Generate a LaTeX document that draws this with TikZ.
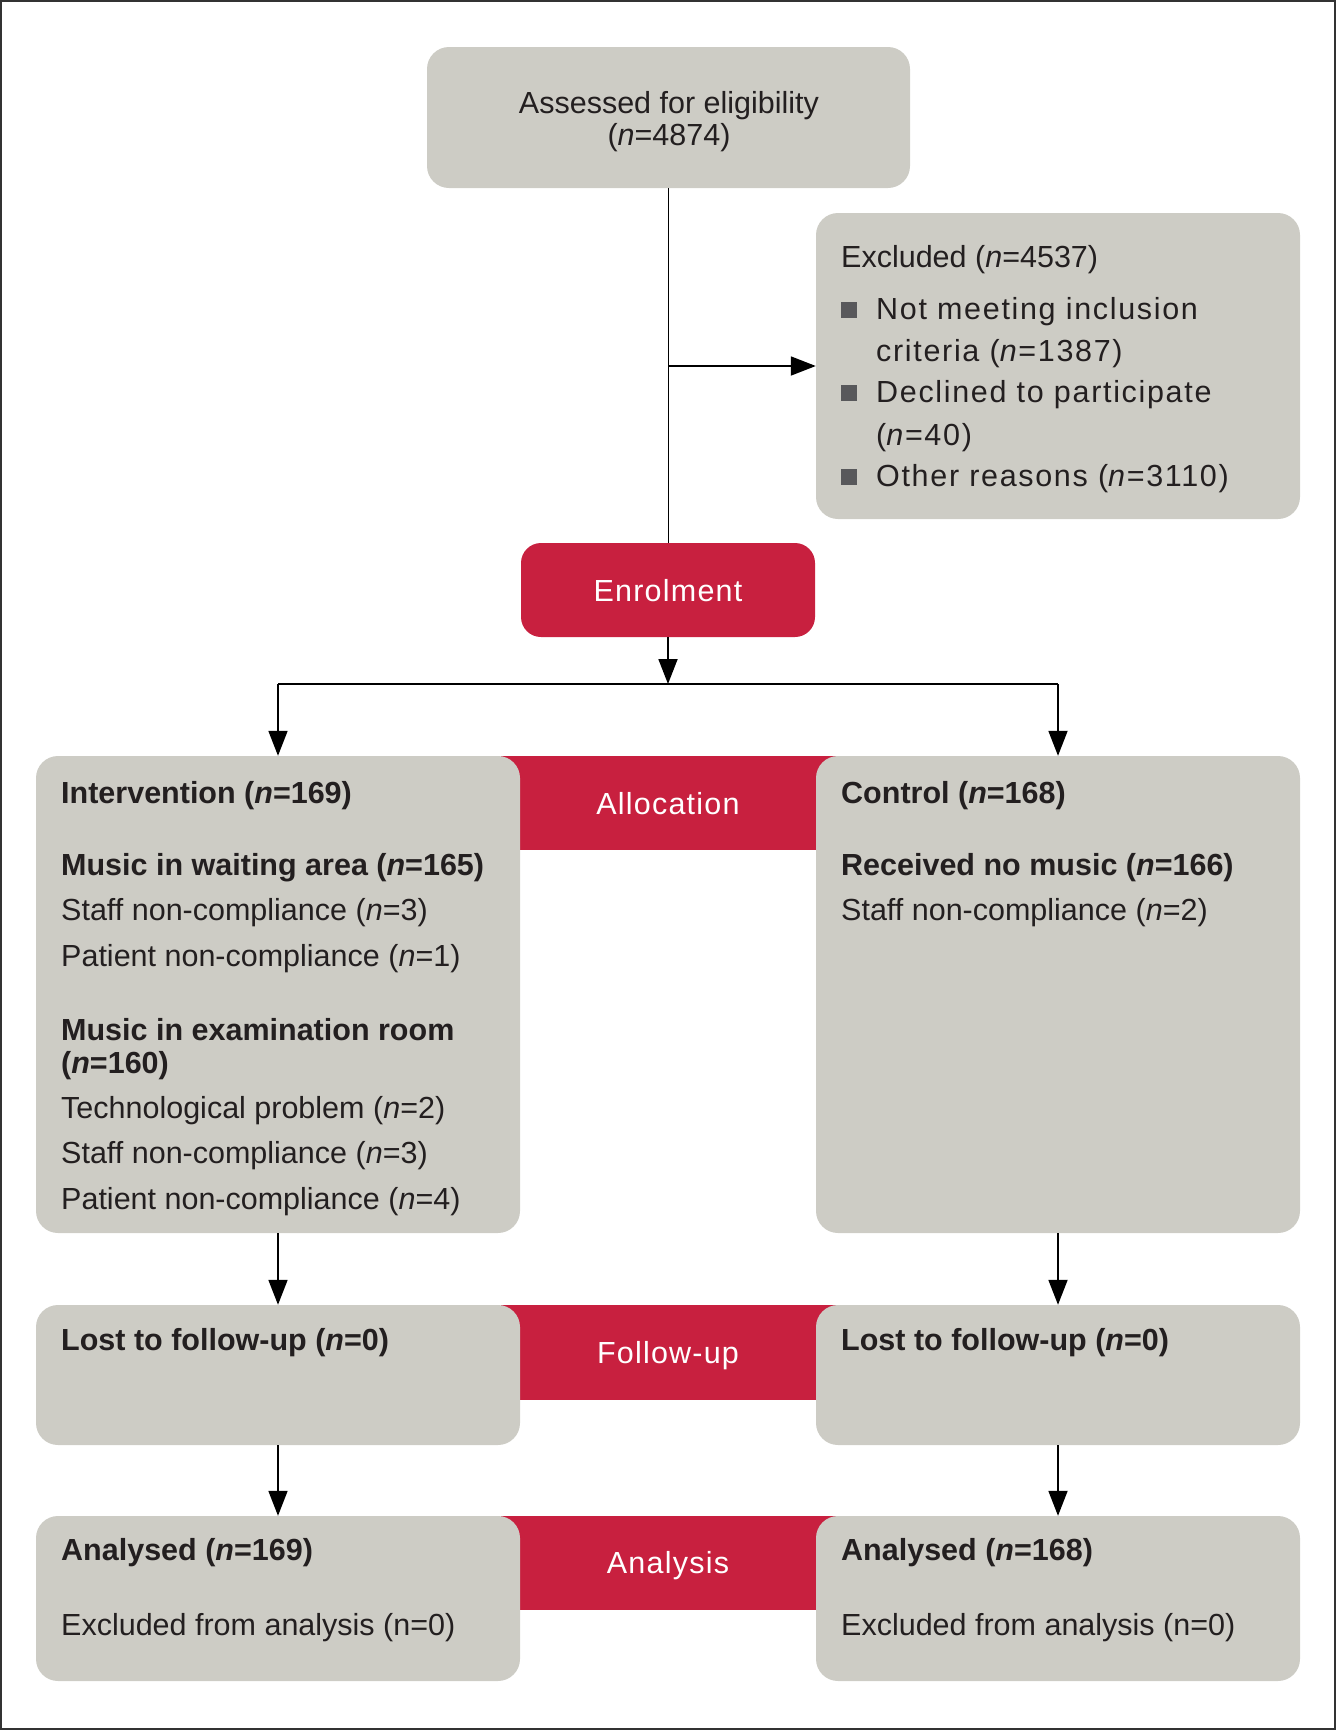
\documentclass[tikz,border=0pt]{standalone}
\usepackage{fontspec}
\setmainfont{Liberation Sans}
\usetikzlibrary{arrows.meta}
\definecolor{boxgray}{HTML}{CDCCC5}
\definecolor{cred}{HTML}{C8203F}
\definecolor{txtc}{HTML}{231F20}
\definecolor{bulc}{HTML}{58585B}
\begin{document}
\begin{tikzpicture}[x=1pt,y=-1pt,
  gbox/.style={fill=boxgray, rounded corners=22pt, inner sep=0pt, draw=none, minimum width=484pt},
  rband/.style={fill=cred, inner sep=0pt, draw=none, minimum width=335pt},
  rlabel/.style={anchor=base, inner sep=0pt, text=white, font=\fontsize{30.5}{36}\selectfont\addfontfeatures{LetterSpace=4}},
  tl/.style={anchor=base west, inner sep=0pt, text=txtc, font=\fontsize{30.5}{36}\selectfont},
  tw/.style={tl, font=\fontsize{30.5}{36}\selectfont\addfontfeatures{LetterSpace=5.5}},
  tc/.style={anchor=base, inner sep=0pt, text=txtc, font=\fontsize{30.5}{36}\selectfont},
  bul/.style={anchor=south west, fill=bulc, inner sep=0pt, minimum size=16pt, draw=none},
  conn/.style={draw=black, line width=1.8pt},
  arr/.style={conn, -{Triangle[length=25pt,width=19pt]}}
]
\useasboundingbox (0,0) rectangle (1336,1730);
\draw[draw=black!80, line width=2pt] (1,1) rectangle (1335,1729);

% red bands
\node[rband, minimum height=94pt] (allocband) at (668,803) {};
\node[rband, minimum height=95pt] (followband) at (668,1352.5) {};
\node[rband, minimum height=94pt] (anaband) at (668,1563) {};

% boxes
\node[gbox, minimum width=483pt, minimum height=141pt] (assess) at (668.5,117.5) {};
\node[gbox, minimum height=306pt] (excl) at (1058,366) {};
\node[fill=cred, rounded corners=20pt, inner sep=0pt, minimum width=294pt, minimum height=94pt] (enrol) at (668,590) {};
\node[gbox, minimum height=477pt] (interv) at (278,994.5) {};
\node[gbox, minimum height=477pt] (ctrl) at (1058,994.5) {};
\node[gbox, minimum height=140pt] (lostL) at (278,1375) {};
\node[gbox, minimum height=140pt] (lostR) at (1058,1375) {};
\node[gbox, minimum height=165pt] (anaL) at (278,1598.5) {};
\node[gbox, minimum height=165pt] (anaR) at (1058,1598.5) {};

% red labels
\node[rlabel] (enroltxt) at (668,601) {Enrolment};
\node[rlabel] (alloctxt) at (668,814) {Allocation};
\node[rlabel] (followtxt) at (668,1363) {Follow-up};
\node[rlabel] (anatxt) at (668,1573) {Analysis};

% assessed text
\node[tc] (as1) at (669,113) {Assessed for eligibility};
\node[tc] (as2) at (669,145) {(\textit{n}=4874)};

% excluded text
\node[tl] (ex0) at (841,267) {Excluded (\textit{n}=4537)};
\node[bul] (bu1) at (841,318) {};
\node[tw] (ex1) at (876,319.5) {Not meeting inclusion};
\node[tw] (ex2) at (876,361) {criteria (\textit{n}=1387)};
\node[bul] (bu2) at (841,401) {};
\node[tw] (ex3) at (876,402.5) {Declined to participate};
\node[tw] (ex4) at (876,445) {(\textit{n}=40)};
\node[bul] (bu3) at (841,485) {};
\node[tw] (ex5) at (876,486) {Other reasons (\textit{n}=3110)};

% intervention text
\node[tl] (iv1) at (61,803) {\textbf{Intervention (\textit{n}=169)}};
\node[tl] (iv2) at (61,875) {\textbf{Music in waiting area (\textit{n}=165)}};
\node[tl] (iv3) at (61,920.5) {Staff non-compliance (\textit{n}=3)};
\node[tl] (iv4) at (61,966) {Patient non-compliance (\textit{n}=1)};
\node[tl] (iv5) at (61,1040) {\textbf{Music in examination room}};
\node[tl] (iv6) at (61,1073) {\textbf{(\textit{n}=160)}};
\node[tl] (iv7) at (61,1118) {Technological problem (\textit{n}=2)};
\node[tl] (iv8) at (61,1163) {Staff non-compliance (\textit{n}=3)};
\node[tl] (iv9) at (61,1209) {Patient non-compliance (\textit{n}=4)};

% control text
\node[tl] (ct1) at (841,803) {\textbf{Control (\textit{n}=168)}};
\node[tl] (ct2) at (841,875) {\textbf{Received no music (\textit{n}=166)}};
\node[tl] (ct3) at (841,920.5) {Staff non-compliance (\textit{n}=2)};

% follow-up text
\node[tl] (lf1) at (61,1350) {\textbf{Lost to follow-up (\textit{n}=0)}};
\node[tl] (lf2) at (841,1350) {\textbf{Lost to follow-up (\textit{n}=0)}};

% analysis text
\node[tl] (an1) at (61,1560) {\textbf{Analysed (\textit{n}=169)}};
\node[tl] (an2) at (61,1635) {Excluded from analysis (n=0)};
\node[tl] (an3) at (841,1560) {\textbf{Analysed (\textit{n}=168)}};
\node[tl] (an4) at (841,1635) {Excluded from analysis (n=0)};

% connectors
\draw[conn] (assess.south) -- (assess.south |- enrol.north);
\draw[arr] (assess.south |- excl.west) -- (excl.west);
\coordinate (split) at (668,684);
\draw[arr] (enrol.south) -- (split);
\draw[conn, line width=2.6pt] (interv.north |- split) -- (ctrl.north |- split);
\draw[arr] (interv.north |- split) -- (interv.north);
\draw[arr] (ctrl.north |- split) -- (ctrl.north);
\draw[arr] (interv.south) -- (lostL.north);
\draw[arr] (ctrl.south) -- (lostR.north);
\draw[arr] (lostL.south) -- (anaL.north);
\draw[arr] (lostR.south) -- (anaR.north);
\end{tikzpicture}
\end{document}
